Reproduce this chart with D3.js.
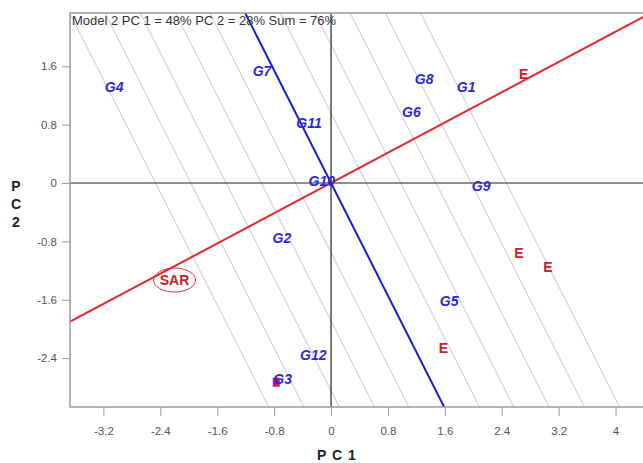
<!DOCTYPE html>
<html>
<head>
<meta charset="utf-8">
<script src="https://cdn.jsdelivr.net/npm/d3@7"></script>
<style>
  body { margin: 0; background: #fff; }
  svg { display: block; font-family: "Liberation Sans", Arial, sans-serif; }
  .axis text { fill: #555; font-size: 11.5px; }
  .axis line { stroke: #999; }
  .axis path { display: none; }
  .geno { fill: #2b2bd6; font-weight: bold; font-style: italic; font-size: 14px; }
  .env { fill: #c8202c; font-weight: bold; font-size: 14px; }
</style>
</head>
<body>
<svg id="chart" width="643" height="463"></svg>
<script>
// tick labels
var xTicks = [-3.2, -2.4, -1.6, -0.8, 0, 0.8, 1.6, 2.4, 3.2, 4];
var yTicks = [-2.4, -1.6, -0.8, 0, 0.8, 1.6];

// genotype scores
var genoNames = ["G1", "G2", "G3", "G4", "G5", "G6", "G7", "G8", "G9", "G10", "G11", "G12"];
var genoPC1 = [1.90, -0.69, -0.68, -3.05, 1.66, 1.13, -0.97, 1.31, 2.11, -0.13, -0.31, -0.25];
var genoPC2 = [1.32, -0.75, -2.68, 1.32, -1.62, 0.97, 1.53, 1.42, -0.04, 0.03, 0.82, -2.36];

// environment scores
var envNames = ["E", "E", "E", "E"];
var envPC1 = [2.71, 2.64, 3.05, 1.58];
var envPC2 = [1.49, -0.96, -1.15, -2.26];

// circled environment and marker
var focusName = "SAR", focusPC1 = -2.20, focusPC2 = -1.33;
var markerPC1 = [-0.77], markerPC2 = [-2.73];

// axis through origin (slope) and the perpendicular lines along it
var axisSlope = 0.518;
var gridOffsets = [-2.19, -1.75, -1.31, -0.87, -0.44, 0, 0.44, 0.87, 1.31, 1.75, 2.19];

var title = "Model 2 PC 1 = 48% PC 2 = 28% Sum = 76%";

var svg = d3.select("#chart");

var x = d3.scaleLinear().domain([-3.67, 4.40]).range([70, 644]);
var y = d3.scaleLinear().domain([-3.07, 2.33]).range([407, 13]);

svg.append("clipPath").attr("id", "plot")
  .append("rect")
    .attr("x", x.range()[0]).attr("y", y.range()[1])
    .attr("width", x.range()[1] - x.range()[0])
    .attr("height", y.range()[0] - y.range()[1]);

var ang = Math.atan(axisSlope),
    u = [Math.cos(ang), Math.sin(ang)],
    v = [-Math.sin(ang), Math.cos(ang)];

var g = svg.append("g").attr("clip-path", "url(#plot)");

// perpendicular gray lines
g.selectAll(".grid")
    .data(gridOffsets)
  .enter().append("line")
    .attr("class", "grid")
    .attr("x1", function(t) { return x(t * u[0] + 10 * v[0]); })
    .attr("y1", function(t) { return y(t * u[1] + 10 * v[1]); })
    .attr("x2", function(t) { return x(t * u[0] - 10 * v[0]); })
    .attr("y2", function(t) { return y(t * u[1] - 10 * v[1]); })
    .attr("stroke", "#c8c8c8")
    .attr("stroke-width", 1);

// zero lines
g.append("line")
    .attr("x1", x(0)).attr("x2", x(0))
    .attr("y1", y.range()[0]).attr("y2", y.range()[1])
    .attr("stroke", "#222").attr("stroke-width", 1.2);
g.append("line")
    .attr("x1", x.range()[0]).attr("x2", x.range()[1])
    .attr("y1", y(0)).attr("y2", y(0))
    .attr("stroke", "#222").attr("stroke-width", 1.2);

// frame
svg.append("path")
    .attr("d", "M" + x.range()[1] + "," + y.range()[1] + "H" + x.range()[0] +
               "V" + y.range()[0] + "H" + x.range()[1])
    .attr("fill", "none")
    .attr("stroke", "#9a9a9a")
    .attr("stroke-width", 1.5);

// red axis and blue perpendicular through origin
g.append("line")
    .attr("x1", x(-10 * u[0])).attr("y1", y(-10 * u[1]))
    .attr("x2", x(10 * u[0])).attr("y2", y(10 * u[1]))
    .attr("stroke", "#e8262a").attr("stroke-width", 2);
g.append("line")
    .attr("x1", x(-10 * v[0])).attr("y1", y(-10 * v[1]))
    .attr("x2", x(10 * v[0])).attr("y2", y(10 * v[1]))
    .attr("stroke", "#1d1dcf").attr("stroke-width", 2);

// axes
svg.append("g")
    .attr("class", "axis")
    .attr("transform", "translate(0," + y.range()[0] + ")")
    .call(d3.axisBottom(x).tickValues(xTicks).tickSize(9).tickPadding(11)
      .tickFormat(function(d) { return String(d); }));

svg.append("g")
    .attr("class", "axis")
    .attr("transform", "translate(" + x.range()[0] + ",0)")
    .call(d3.axisLeft(y).tickValues(yTicks).tickSize(8).tickPadding(5)
      .tickFormat(function(d) { return String(d); }));

// title
svg.append("text")
    .attr("x", 72).attr("y", 25)
    .attr("fill", "#333")
    .style("font-size", "13px")
    .text(title);

// axis titles
svg.append("text")
    .attr("x", 337).attr("y", 460)
    .attr("text-anchor", "middle")
    .attr("fill", "#222")
    .style("font-size", "14px").style("font-weight", "bold")
    .style("letter-spacing", "1px")
    .text("P C 1");

svg.append("g").selectAll("text")
    .data(["P", "C", "2"])
  .enter().append("text")
    .attr("x", 16)
    .attr("y", function(d, i) { return 191 + i * 18; })
    .attr("text-anchor", "middle")
    .attr("fill", "#222")
    .style("font-size", "14px").style("font-weight", "bold")
    .text(function(d) { return d; });

// marker square
svg.append("g").selectAll("rect")
    .data(markerPC1)
  .enter().append("rect")
    .attr("x", function(d) { return x(d) - 3.5; })
    .attr("y", function(d, i) { return y(markerPC2[i]) - 4.5; })
    .attr("width", 7).attr("height", 9)
    .attr("fill", "#b0206e");

// circled environment
svg.append("ellipse")
    .attr("cx", x(focusPC1)).attr("cy", y(focusPC2))
    .attr("rx", 21).attr("ry", 12)
    .attr("fill", "none")
    .attr("stroke", "#e0303c")
    .attr("stroke-width", 1);
svg.append("text")
    .attr("class", "env")
    .attr("x", x(focusPC1)).attr("y", y(focusPC2))
    .attr("dy", "0.36em")
    .attr("text-anchor", "middle")
    .text(focusName);

// environment labels
svg.append("g").selectAll("text")
    .data(envNames)
  .enter().append("text")
    .attr("class", "env")
    .attr("x", function(d, i) { return x(envPC1[i]); })
    .attr("y", function(d, i) { return y(envPC2[i]); })
    .attr("dy", "0.36em")
    .attr("text-anchor", "middle")
    .text(function(d) { return d; });

// genotype labels
svg.append("g").selectAll("text")
    .data(genoNames)
  .enter().append("text")
    .attr("class", "geno")
    .attr("x", function(d, i) { return x(genoPC1[i]); })
    .attr("y", function(d, i) { return y(genoPC2[i]); })
    .attr("dy", "0.36em")
    .attr("text-anchor", "middle")
    .text(function(d) { return d; });
</script>
</body>
</html>
